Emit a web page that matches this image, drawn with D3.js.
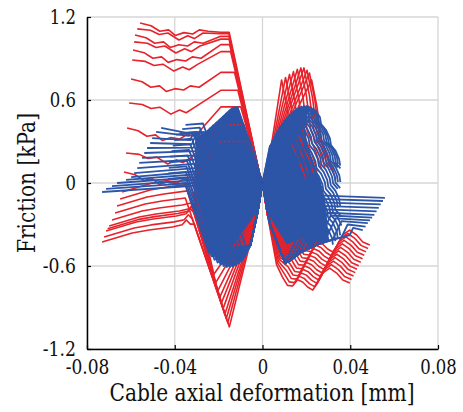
<!DOCTYPE html>
<html>
<head>
<meta charset="utf-8">
<script src="https://cdnjs.cloudflare.com/ajax/libs/d3/7.8.5/d3.min.js"></script>
<style>
  body { margin: 0; background: #fff; }
  svg text { font-family: "DejaVu Serif", "Liberation Serif", "Times New Roman", Times, serif; }
</style>
</head>
<body>
<div id="chart"></div>
<script>
// axis ticks
const xTicks = [-0.08, -0.04, 0, 0.04, 0.08];
const yTicks = [-1.2, -0.6, 0, 0.6, 1.2];

// ---- red cycles ----
// upper-left branch: left end of each curve and its crest before the steep drop
const redTopLeftEnds = [[-0.0558, 1.157], [-0.0571, 1.114], [-0.0581, 1.07], [-0.0585, 1.02], [-0.059, 0.962],
  [-0.0594, 0.889], [-0.0599, 0.752], [-0.0608, 0.578], [-0.0617, 0.398], [-0.0622, 0.217], [-0.0631, 0.08]];
const redTopCrest = [1.09, 1.08, 1.06, 1.04, 1.0, 0.95, 0.8, 0.67, 0.55, 0.42, 0.3];
// two stepped profiles seen on these curves (offsets from the left end)
const redTopWiggleA = [[0, 0], [0.005, -0.02], [0.009, -0.06], [0.013, -0.05], [0.016, -0.09], [0.02, -0.07],
  [0.024, -0.08], [0.027, -0.05], [0.031, -0.06]];
const redTopWiggleB = [[0, 0], [0.006, -0.01], [0.01, -0.04], [0.014, -0.03], [0.019, -0.08], [0.023, -0.05],
  [0.026, -0.07], [0.03, -0.03]];
const redSteepShift = [0, -0.00025, -0.0005, -0.00075, -0.001, -0.00125, -0.0015, -0.00175, -0.002, -0.00225, -0.0025];
const redSteepY = [1.2, 0.98, 0.07, 0];
const redSteepXv = [-0.0167, -0.0137, -0.0014, 0];

// lower-right wavy branch (lowest curve) and the shift of each curve above it
const redLowWave = [[0, 0], [0.0023, -0.23], [0.0064, -0.59], [0.0091, -0.68], [0.0114, -0.74], [0.0137, -0.745],
  [0.016, -0.70], [0.0183, -0.716], [0.0206, -0.752], [0.0229, -0.774], [0.0251, -0.723], [0.0274, -0.651],
  [0.0306, -0.615], [0.0338, -0.651], [0.0366, -0.701], [0.0398, -0.723]];
const redLowShift = [[0, 0], [0.0008, 0.025], [0.0017, 0.05], [0.0025, 0.075], [0.0033, 0.1], [0.0041, 0.125],
  [0.005, 0.15], [0.0058, 0.175], [0.0066, 0.2], [0.0074, 0.225], [0.0083, 0.25], [0.0091, 0.275]];

// lower-left branch, the narrow spike down, and the spike up-right
const redLowLeftEnds = [[-0.064, -0.065], [-0.0649, -0.116], [-0.0663, -0.166], [-0.0672, -0.217], [-0.0686, -0.268],
  [-0.0699, -0.311], [-0.0706, -0.33], [-0.0713, -0.347], [-0.0722, -0.39], [-0.0731, -0.427]];
const redLowLeftWiggle = [[0, 0], [0.0137, 0.065], [0.0214, 0.087], [0.032, 0.109], [0.0365, 0.125],
  [0.0384, 0.16], [0.0402, 0.13], [0.042, 0.13]];
const redSpikeBottoms = [[-0.0222, -0.66], [-0.0213, -0.72], [-0.0204, -0.78], [-0.0196, -0.83], [-0.0188, -0.87],
  [-0.018, -0.91], [-0.0172, -0.95], [-0.0165, -0.98], [-0.0158, -1.01], [-0.0151, -1.04]];
const redSpikeApex = [[-0.0023, -0.217], [0, 0], [0.0023, 0.094]];
const redSpikeTops = [[0.0087, 0.745], [0.0105, 0.763], [0.0123, 0.785], [0.0141, 0.805], [0.0159, 0.822],
  [0.0175, 0.832], [0.0189, 0.832], [0.0203, 0.815], [0.0214, 0.795], [0.0224, 0.745]];
const redSpikeDescent = [[0.0025, -0.2], [0.0045, -0.45], [0.0085, -0.6], [0.011, -0.72]];

// ---- blue cycles ----
// dense cores where the blue curves overlap (outline)
const blueCoreLeft = [[-0.03, 0.33], [-0.0256, 0.36], [-0.0197, 0.45], [-0.0137, 0.535], [-0.0114, 0.545],
  [-0.0073, 0.355], [-0.0037, 0.21], [-0.0014, 0.07], [0, 0], [-0.0023, -0.21], [-0.0055, -0.44], [-0.0091, -0.55],
  [-0.0137, -0.6], [-0.019, -0.575], [-0.0235, -0.5], [-0.028, -0.36], [-0.031, -0.2], [-0.031, -0.05]];
const blueCoreRight = [[0, 0], [0.0032, 0.26], [0.0078, 0.4], [0.0123, 0.49], [0.0169, 0.545], [0.019, 0.55],
  [0.0205, 0.54], [0.019, 0.42], [0.02, 0.28], [0.023, 0.15], [0.026, 0.02], [0.028, -0.1], [0.029, -0.25],
  [0.03, -0.42], [0.0247, -0.445], [0.017, -0.5], [0.0103, -0.575], [0.0035, -0.3]];

// upper-left: left ends, level where each starts to climb, and where it meets the ridge
const blueTopLeftEnds = [[-0.0462, 0.398], [-0.0485, 0.369], [-0.0503, 0.325], [-0.0512, 0.289], [-0.0526, 0.253],
  [-0.0539, 0.217], [-0.0549, 0.181], [-0.0562, 0.145], [-0.0571, 0.108], [-0.0585, 0.072], [-0.0599, 0.043],
  [-0.0622, 0.022], [-0.0663, 0.0], [-0.0686, -0.022], [-0.0713, -0.043], [-0.0731, -0.065]];
const blueClimbStart = [[-0.0347, 0.362], [-0.0336, 0.34], [-0.0329, 0.31], [-0.0322, 0.28], [-0.0314, 0.255],
  [-0.0306, 0.23], [-0.0299, 0.2], [-0.0298, 0.17], [-0.0297, 0.14], [-0.0295, 0.11], [-0.0292, 0.085],
  [-0.0288, 0.065], [-0.0284, 0.045], [-0.0279, 0.025], [-0.0275, 0.005], [-0.0266, -0.015]];
const blueRidgeHits = [[-0.0114, 0.55], [-0.033, 0.364], [-0.0315, 0.365], [-0.03, 0.366], [-0.0285, 0.367],
  [-0.027, 0.368], [-0.0255, 0.369], [-0.024, 0.394], [-0.0225, 0.416], [-0.021, 0.436], [-0.0195, 0.458],
  [-0.018, 0.48], [-0.0165, 0.502], [-0.015, 0.523], [-0.0135, 0.542], [-0.012, 0.548]];
const blueRidge = [[-0.0347, 0.362], [-0.0256, 0.369], [-0.0197, 0.455], [-0.0137, 0.542], [-0.0114, 0.55],
  [-0.0073, 0.36], [-0.0037, 0.217], [-0.0014, 0.072]];

// lower-left: parallel falling lines from the upper mass to the trough
const blueFallTops = [[-0.0351, -0.02], [-0.0349, 0.0], [-0.035, 0.04], [-0.0349, 0.08], [-0.0347, 0.12],
  [-0.0344, 0.16], [-0.0341, 0.2], [-0.0335, 0.24], [-0.0329, 0.28], [-0.0322, 0.32], [-0.0314, 0.36],
  [-0.0298, 0.37], [-0.0286, 0.4], [-0.0271, 0.43]];
const blueFallTroughs = [[-0.0245, -0.5], [-0.0232, -0.53], [-0.0219, -0.555], [-0.0205, -0.575], [-0.0191, -0.59],
  [-0.0177, -0.6], [-0.0163, -0.607], [-0.0149, -0.607], [-0.0135, -0.603], [-0.0121, -0.595], [-0.0107, -0.58],
  [-0.0093, -0.56], [-0.0081, -0.53], [-0.0069, -0.49]];
const blueFallExit = [[-0.0055, -0.45], [-0.0023, -0.217], [0, 0]];

// upper-right: ridge tops and the stepped fall to the right
const blueRightTops = [[0.0035, 0.27], [0.0046, 0.31], [0.0057, 0.345], [0.0068, 0.375], [0.0079, 0.405],
  [0.009, 0.43], [0.0101, 0.452], [0.0112, 0.472], [0.0123, 0.492], [0.0134, 0.508], [0.0145, 0.522],
  [0.0156, 0.535], [0.0167, 0.547], [0.0178, 0.553], [0.0189, 0.557], [0.02, 0.557], [0.0211, 0.553],
  [0.0222, 0.546], [0.0232, 0.537], [0.0242, 0.525]];
const blueFanStep = [[0, 0], [0.002, -0.05], [0.0025, -0.1], [0.0047, -0.14], [0.0065, -0.2], [0.007, -0.25],
  [0.009, -0.29], [0.0107, -0.35], [0.0112, -0.4], [0.0133, -0.44], [0.015, -0.5], [0.0155, -0.55], [0.0176, -0.59],
  [0.0193, -0.65], [0.0198, -0.7], [0.022, -0.74], [0.0237, -0.8], [0.0242, -0.85], [0.0263, -0.89],
  [0.028, -0.95], [0.0285, -1.0]];

// lower-right: bottom envelope, where each curve leaves it, its knee and its right end
const blueBottomEdge = [[0, 0], [0.0035, -0.3], [0.0103, -0.58]];
const blueRiseTroughs = [[0.0103, -0.58], [0.0125, -0.56], [0.0147, -0.535], [0.017, -0.506], [0.0195, -0.485],
  [0.022, -0.467], [0.0247, -0.448], [0.028, -0.43], [0.032, -0.41], [0.036, -0.393], [0.0398, -0.376]];
const blueRiseKnees = [[0.025, -0.09], [0.0259, -0.115], [0.0266, -0.14], [0.0272, -0.165], [0.0284, -0.19],
  [0.0296, -0.215], [0.0311, -0.235], [0.0333, -0.255], [0.036, -0.275], [0.0388, -0.3], [0.0413, -0.325]];
const blueRiseEnds = [[0.0558, -0.108], [0.0549, -0.13], [0.0539, -0.155], [0.053, -0.18], [0.052, -0.205],
  [0.051, -0.23], [0.05, -0.25], [0.049, -0.27], [0.048, -0.29], [0.047, -0.315], [0.0457, -0.34]];

const RED = "#e8222a", BLUE = "#2c55a8";
const SERIF = "'DejaVu Serif', 'Liberation Serif', 'Times New Roman', serif";

// the original labels are set in a Times-like face; squeeze the wider serif to the same widths
const timesEm = { "-": 0.333, ".": 0.25 };
const labelWidth = (s, size) => size * [...s].reduce((w, c) => w + (timesEm[c] ?? 0.5), 0);

const width = 463, height = 412;
const svg = d3.select("#chart").append("svg")
  .attr("width", width)
  .attr("height", height);

const x = d3.scaleLinear().domain([-0.08, 0.08]).range([87, 438]);
const y = d3.scaleLinear().domain([-1.2, 1.2]).range([349, 17]);

// grid
svg.append("g").selectAll("line").data(xTicks).join("line")
  .attr("x1", d => x(d)).attr("x2", d => x(d))
  .attr("y1", y(-1.2)).attr("y2", y(1.2))
  .attr("stroke", "#d6d6d6").attr("stroke-width", 1.3);
svg.append("g").selectAll("line").data(yTicks).join("line")
  .attr("x1", x(-0.08)).attr("x2", x(0.08))
  .attr("y1", d => y(d)).attr("y2", d => y(d))
  .attr("stroke", "#d6d6d6").attr("stroke-width", 1.3);

// build the curves
const redSteepX = d3.scaleLinear().domain(redSteepY).range(redSteepXv);

const redTopPaths = redTopLeftEnds.map(([x0, y0], i) => {
  const wiggle = i % 2 ? redTopWiggleB : redTopWiggleA;
  const pts = wiggle.map(([dx, dy]) => [x0 + dx, y0 + dy]);
  const c = redTopCrest[i], s = redSteepShift[i];
  pts.push([-0.019, c], [redSteepX(c) + s, c]);
  redSteepY.filter(v => v < c).forEach(v => pts.push([redSteepX(v) + (v > 0.07 ? s : 0), v]));
  return pts;
});

const redLowRightPaths = redLowShift.map(([sx, sy]) =>
  redLowWave.map(([px, py], k) => k < 2 ? [px, py] : k === 2 ? [px + sx / 2, py + sy / 2] : [px + sx, py + sy]));

const redLoopPaths = redLowLeftEnds.map(([x0, y0], i) => {
  const pts = redLowLeftWiggle.map(([dx, dy]) => [x0 + dx, y0 + dy]).filter(p => p[0] <= -0.031);
  const t = redSpikeTops[i];
  pts.push(redSpikeBottoms[i], ...redSpikeApex, t);
  redSpikeDescent.forEach(([dx, dy]) => pts.push([t[0] + dx, t[1] + dy]));
  return pts;
});

const blueTopPaths = blueTopLeftEnds.map((p, i) =>
  i === 0 ? [p, ...blueRidge, [0, 0]] : [p, blueClimbStart[i], blueRidgeHits[i], [0, 0]]);

const blueFallPaths = blueFallTroughs.map((t, i) => {
  const top = blueFallTops[i];
  return [[top[0] - 0.008, top[1] - 0.01], top, t, ...blueFallExit];
});

const blueFanPaths = blueRightTops.map(t => {
  const pts = [[0, 0]];
  for (const [dx, dy] of blueFanStep) {
    const p = [t[0] + dx, t[1] + dy];
    if (p[1] < -0.45 || p[0] > 0.036) break;
    pts.push(p);
  }
  return pts;
});

const blueRisePaths = blueRiseEnds.map((e, i) => {
  const t = blueRiseTroughs[i];
  const edge = blueRiseTroughs.slice(0, i);
  return [...blueBottomEdge, ...edge, t, blueRiseKnees[i], e];
});

const line = d3.line().x(d => x(d[0])).y(d => y(d[1]));
const closed = d3.line().x(d => x(d[0])).y(d => y(d[1])).curve(d3.curveLinearClosed);

function drawCurves(paths, color, w) {
  svg.append("g").selectAll("path").data(paths).join("path")
    .attr("d", line)
    .attr("fill", "none")
    .attr("stroke", color)
    .attr("stroke-width", w)
    .attr("stroke-linejoin", "round");
}

// blue cores first, red on them, blue curves on top (red shows between blue strokes)
svg.append("g").selectAll("path").data([blueCoreLeft, blueCoreRight]).join("path")
  .attr("d", closed)
  .attr("fill", BLUE)
  .attr("stroke", BLUE)
  .attr("stroke-width", 1.5);

drawCurves(redTopPaths, RED, 1.6);
drawCurves(redLowRightPaths, RED, 1.6);
drawCurves(redLoopPaths, RED, 1.6);
drawCurves(blueTopPaths, BLUE, 1.8);
drawCurves(blueFallPaths, BLUE, 1.8);
drawCurves(blueFanPaths, BLUE, 1.8);
drawCurves(blueRisePaths, BLUE, 1.8);

// axes
const xAxis = svg.append("g")
  .attr("transform", `translate(0,${y(-1.2)})`)
  .call(d3.axisBottom(x).tickValues(xTicks).tickSize(-4).tickSizeOuter(0).tickPadding(11).tickFormat(d => String(d)));
const yAxis = svg.append("g")
  .attr("transform", `translate(${x(-0.08)},0)`)
  .call(d3.axisLeft(y).tickValues(yTicks).tickSize(-4).tickSizeOuter(0).tickPadding(11).tickFormat(d => String(d)));

[xAxis, yAxis].forEach(a => {
  a.attr("font-family", null);
  a.select(".domain").attr("stroke", "#000").attr("stroke-width", 1.5);
  a.selectAll(".tick line").attr("stroke", "#000").attr("stroke-width", 1.2);
  a.selectAll(".tick text")
    .attr("font-size", 20)
    .attr("fill", "#111")
    .attr("textLength", d => labelWidth(String(d), 21))
    .attr("lengthAdjust", "spacingAndGlyphs")
    .style("font-family", SERIF);
});

svg.append("text")
  .attr("x", 262).attr("y", 401)
  .attr("text-anchor", "middle")
  .attr("font-size", 24)
  .attr("fill", "#111")
  .attr("textLength", 305)
  .attr("lengthAdjust", "spacingAndGlyphs")
  .style("font-family", SERIF)
  .text("Cable axial deformation [mm]");

svg.append("text")
  .attr("transform", "translate(35,183) rotate(-90)")
  .attr("text-anchor", "middle")
  .attr("font-size", 25)
  .attr("fill", "#111")
  .attr("textLength", 140)
  .attr("lengthAdjust", "spacingAndGlyphs")
  .style("font-family", SERIF)
  .text("Friction [kPa]");
</script>
</body>
</html>
